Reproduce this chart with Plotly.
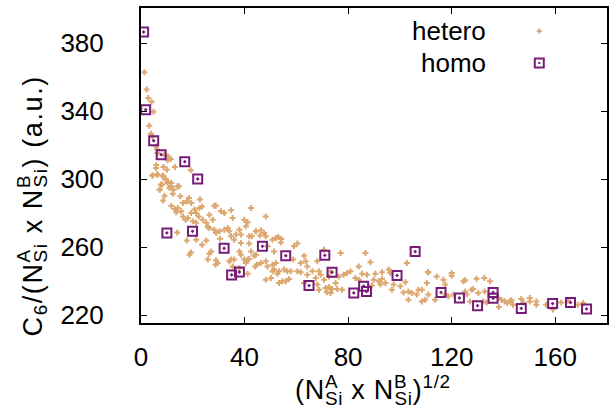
import plotly.graph_objects as go

# ---------------- data ----------------
hetero_x = [
    1.3, 2.2, 2.8, 4.1, 4.8, 3.2, 3.8, 4.5, 5.8, 6.2, 6.4, 9.0, 10.5, 11.5, 10.3, 13.1, 19.2,
    5.8, 5.9, 8.7, 10.0, 4.5, 6.4, 8.3, 9.6, 7.7, 10.3, 11.5, 14.1, 7.3,
    4.4, 6.2, 8.5, 9.5, 10.4, 11.7, 8.2, 11.0, 12.6, 14.6, 7.2, 12.3, 9.1, 8.5, 15.2, 16.2,
    17.7, 18.5, 19.4, 11.7, 13.0, 14.2, 13.6, 15.5, 16.2, 17.2, 18.1, 19.4, 20.7, 22.6, 23.6,
    22.8, 21.3, 22.3, 20.0, 21.3, 23.8, 25.2, 25.8, 26.4, 27.7, 28.3, 28.9, 30.9, 32.2, 34.8,
    35.4, 26.4, 28.3, 29.0, 30.3, 32.2, 33.5, 30.5, 34.1, 34.8, 38.0, 38.6, 40.5, 41.8, 39.9,
    41.2, 42.5, 36.7, 36.0, 38.6, 41.8, 42.8, 44.4, 14.0, 17.7, 21.3, 23.6, 25.2, 27.1, 26.4,
    18.7, 19.3, 25.8, 29.0, 29.6, 28.8, 34.1, 34.8, 36.0, 35.4, 38.0, 38.6, 39.9, 40.5, 41.2,
    41.8, 42.5, 44.1, 41.2, 38.0, 44.4,
    48.2, 44.4, 46.3, 47.6, 46.0, 48.2, 50.8, 52.1, 53.0, 54.2, 54.0, 51.4, 48.8, 59.1, 60.4,
    63.0, 58.8, 61.7, 63.6, 64.2, 68.1, 70.7, 77.1, 43.7, 44.8, 46.3, 48.2, 48.8, 50.8, 52.1,
    51.4, 53.3, 52.7, 50.8, 55.3, 56.5, 57.8, 57.2, 54.6, 55.9, 53.3, 48.2, 50.2, 60.4, 61.7,
    64.2, 66.2, 68.7, 69.4, 67.5, 70.7, 68.1, 68.7, 71.3, 72.6, 73.8, 75.8, 77.7, 75.2, 76.4,
    78.3, 79.6, 80.9, 82.8, 84.1, 73.2, 71.8, 63.0, 73.2, 72.6,
    86.7, 88.6, 102.7, 84.1, 85.4, 87.3, 90.5, 93.1, 95.7, 96.3, 89.9, 91.8, 93.1, 94.4, 92.5,
    89.2, 97.6, 96.9, 100.2, 102.1, 101.4, 103.3, 104.6, 106.5, 107.2, 108.5, 109.8, 111.0,
    110.4, 111.0, 114.2, 116.8, 117.5, 120.0, 120.0, 124.5, 118.7, 120.7, 117.5, 113.6, 125.2,
    125.8, 127.7, 108.5, 103.3,
    129.6, 132.6, 134.8, 128.3, 130.3, 132.8, 127.1, 132.2, 133.5, 138.0, 139.2, 140.5, 141.5,
    142.8, 138.2, 143.7, 146.9, 147.7, 150.2, 150.2, 152.7, 152.7, 156.5, 159.1, 162.3, 164.9,
    168.7, 170.7, 143.1, 125.2, 110.8,
]
hetero_y = [
    363.0, 352.8, 347.9, 345.7, 339.8, 331.6, 326.9, 325.0, 319.4, 317.5, 315.5, 314.5, 313.5, 312.0, 311.2, 307.3, 305.3,
    306.7, 308.5, 307.3, 305.7, 302.2, 302.8, 301.8, 299.8, 296.9, 297.9, 295.9, 295.9, 294.0,
    302.2, 302.8, 302.2, 300.2, 298.8, 297.9, 296.9, 294.9, 293.9, 295.9, 293.9, 291.6, 290.4, 287.6, 290.0, 286.1,
    287.1, 289.1, 286.1, 284.5, 282.6, 283.2, 280.6, 281.2, 278.2, 276.3, 277.3, 280.2, 282.2, 283.2, 284.1,
    288.1, 280.2, 278.2, 275.3, 274.4, 276.3, 274.4, 272.0, 279.2, 276.3, 284.5, 284.5, 281.2, 280.2, 281.8,
    277.3, 271.4, 270.4, 268.5, 269.4, 270.4, 271.4, 265.0, 269.4, 266.5, 270.4, 267.5, 272.4, 266.5, 276.3,
    274.7, 283.2, 267.5, 264.5, 262.6, 262.2, 266.5, 269.4, 268.8, 264.1, 264.5, 261.6, 264.1, 257.6, 256.3,
    255.7, 257.0, 252.8, 252.4, 250.8, 249.7, 251.8, 252.8, 252.8, 248.8, 257.6, 255.7, 252.8, 250.8, 252.8,
    253.2, 257.6, 248.8, 244.5, 247.7, 255.7,
    278.2, 269.4, 270.0, 268.5, 266.9, 266.5, 264.5, 265.5, 266.1, 264.9, 262.9, 257.6, 260.6, 260.6, 262.2,
    255.1, 252.8, 250.8, 251.8, 248.8, 251.8, 258.6, 256.7, 255.1, 249.8, 250.8, 251.8, 248.8, 249.8, 250.8,
    246.9, 245.9, 244.5, 245.9, 246.9, 245.9, 245.9, 241.4, 240.0, 240.0, 239.1, 241.0, 242.0, 245.9, 245.3,
    243.9, 245.9, 245.9, 243.9, 242.0, 241.0, 238.1, 235.1, 236.1, 236.7, 235.5, 235.5, 235.1, 239.1, 242.9,
    243.9, 244.9, 245.9, 242.0, 241.0, 233.2, 233.6, 239.1, 245.9, 242.9,
    256.7, 251.2, 250.8, 248.8, 244.5, 243.9, 244.5, 245.3, 246.9, 244.9, 241.0, 240.0, 241.4, 239.1, 238.1,
    237.5, 238.1, 235.1, 237.1, 239.4, 233.5, 234.1, 233.2, 232.2, 235.1, 235.1, 229.2, 232.2,
    239.1, 245.3, 242.9, 241.0, 238.1, 244.9, 243.3, 240.0, 231.2, 232.2, 232.2, 229.2, 234.1,
    232.2, 235.1, 228.2, 229.2,
    241.6, 242.0, 240.0, 235.5, 233.2, 234.1, 228.2, 228.2, 227.6, 230.2, 229.2, 228.2, 227.3,
    228.8, 224.9, 226.3, 229.6, 227.6, 230.2, 228.2, 228.2, 226.3, 226.3, 223.4, 227.6, 228.8,
    226.3, 227.3, 228.8, 240.6, 245.3,
]

homo_x = [1.0, 1.8, 4.9, 7.8, 16.9, 21.9, 10.0, 19.9, 32.1, 35.0, 38.0, 46.9, 55.9, 64.9,
          71.0, 73.8, 82.2, 86.0, 87.1, 98.9, 105.9, 115.9, 123.0, 130.0, 136.0, 136.0,
          146.9, 159.0, 165.9, 172.1]
homo_y = [386.7, 341.0, 322.7, 314.5, 310.4, 300.2, 268.5, 269.4, 259.4, 243.8, 245.5, 260.6,
          255.1, 237.5, 255.3, 245.3, 233.2, 237.1, 234.0, 243.5, 257.5, 233.5, 230.2, 225.7,
          233.5, 230.0, 224.1, 226.9, 227.6, 223.8]

x_ticks = [0, 40, 80, 120, 160]
y_ticks = [220, 260, 300, 340, 380]
x_range = [0, 180]
y_range = [215.5, 400.8]
series_names = ["hetero", "homo"]

# ---------------- styling ----------------
FONT = "Liberation Sans, Arial, sans-serif"
FS = 26
HET_COLOR = "#dca870"
HOM_COLOR = "#761c78"
W, H = 610, 410
L, R, T, B = 141, 1, 8, 87

fig = go.Figure()
fig.add_trace(go.Scatter(
    x=hetero_x, y=hetero_y, mode="markers", name=series_names[0], showlegend=False,
    marker=dict(symbol="cross", size=5, color=HET_COLOR, line=dict(width=0)),
))
fig.add_trace(go.Scatter(
    x=homo_x, y=homo_y, mode="markers", name=series_names[1], showlegend=False,
    marker=dict(symbol="square-open-dot", size=9, color=HOM_COLOR, line=dict(width=2, color=HOM_COLOR)),
))
# empty trace so the label-carrying overlay axes exist
fig.add_trace(go.Scatter(x=[], y=[], xaxis="x2", yaxis="y2", showlegend=False, hoverinfo="skip"))

# main axes: frame + inward ticks on all four sides, no labels
frame = dict(
    showline=True, linecolor="black", linewidth=1.5, mirror="allticks",
    ticks="inside", ticklen=6, tickwidth=1, tickcolor="black",
    showgrid=False, zeroline=False, showticklabels=False,
)
# overlay axes: carry only the labels (invisible outward ticks set the gap)
labels = dict(
    showline=False, ticks="outside", tickcolor="rgba(0,0,0,0)", tickwidth=1,
    showgrid=False, zeroline=False, showticklabels=True,
    tickfont=dict(family=FONT, size=FS, color="black"),
)

fig.update_layout(
    xaxis=dict(range=x_range, tickvals=x_ticks, **frame),
    yaxis=dict(range=y_range, tickvals=y_ticks, **frame),
    xaxis2=dict(range=x_range, tickvals=x_ticks, overlaying="x", anchor="y2", side="bottom",
                ticklen=11, **labels),
    yaxis2=dict(range=y_range, tickvals=y_ticks, overlaying="y", anchor="x2", side="left",
                ticklen=31, **labels),
)

pw = W - L - R
ph = H - T - B


def px_to_paper(px, py):
    return (px - L) / pw, (H - B - py) / ph


# stacked super/subscript (gnuplot style): pull back the cursor after the superscript
def stacked(sup, back):
    return '<sup><span style="letter-spacing:-%.1fpx">%s</span></sup><sub>Si</sub>' % (back, sup)


annotations = []
# x axis title
XT = 27
ax_, ay_ = px_to_paper(374, 390)
annotations.append(dict(
    text='<span style="letter-spacing:0.7px">(N' + stacked("A", 12.6) + " x N" + stacked("B", 12.0)
         + ")<sup>1/2</sup></span>",
    x=ax_, y=ay_, xref="paper", yref="paper", showarrow=False,
    xanchor="center", yanchor="middle", font=dict(family=FONT, size=XT, color="black"),
))
# y axis title
YT = 27
bx_, by_ = px_to_paper(32, 206)
annotations.append(dict(
    text='<span style="letter-spacing:1.6px">C<sub>6</sub>/(N' + stacked("A", 12.6) + " x N"
         + stacked("B", 12.0) + ") (a.u.)</span>",
    x=bx_, y=by_, xref="paper", yref="paper", showarrow=False, textangle=-90,
    xanchor="center", yanchor="middle", font=dict(family=FONT, size=YT, color="black"),
))
# legend texts (gnuplot style: text left, key on the right)
for name, py in zip(series_names, [31, 63]):
    lx, ly = px_to_paper(489, py)
    annotations.append(dict(
        text=name, x=lx, y=ly, xref="paper", yref="paper", showarrow=False,
        xanchor="right", yanchor="middle", font=dict(family=FONT, size=FS, color="black"),
    ))

shapes = []
# legend key for hetero: small plus
kx, ky = px_to_paper(541, 31)
shapes.append(dict(type="line", xref="paper", yref="paper", xsizemode="pixel", ysizemode="pixel",
                   xanchor=kx, yanchor=ky, x0=-2.5, x1=2.5, y0=0, y1=0,
                   line=dict(color=HET_COLOR, width=2)))
shapes.append(dict(type="line", xref="paper", yref="paper", xsizemode="pixel", ysizemode="pixel",
                   xanchor=kx, yanchor=ky, x0=0, x1=0, y0=-2.5, y1=2.5,
                   line=dict(color=HET_COLOR, width=2)))
# legend key for homo: open square with dot
kx, ky = px_to_paper(541, 63)
shapes.append(dict(type="rect", xref="paper", yref="paper", xsizemode="pixel", ysizemode="pixel",
                   xanchor=kx, yanchor=ky, x0=-4.5, x1=4.5, y0=-4.5, y1=4.5,
                   line=dict(color=HOM_COLOR, width=2)))
shapes.append(dict(type="rect", xref="paper", yref="paper", xsizemode="pixel", ysizemode="pixel",
                   xanchor=kx, yanchor=ky, x0=-1, x1=1, y0=-1, y1=1,
                   line=dict(color=HOM_COLOR, width=0), fillcolor=HOM_COLOR))

fig.update_layout(
    width=W, height=H,
    margin=dict(l=L, r=R, t=T, b=B, pad=0),
    paper_bgcolor="white", plot_bgcolor="white",
    showlegend=False,
    annotations=annotations, shapes=shapes,
    font=dict(family=FONT, size=FS, color="black"),
)

fig.write_html("out.html")
